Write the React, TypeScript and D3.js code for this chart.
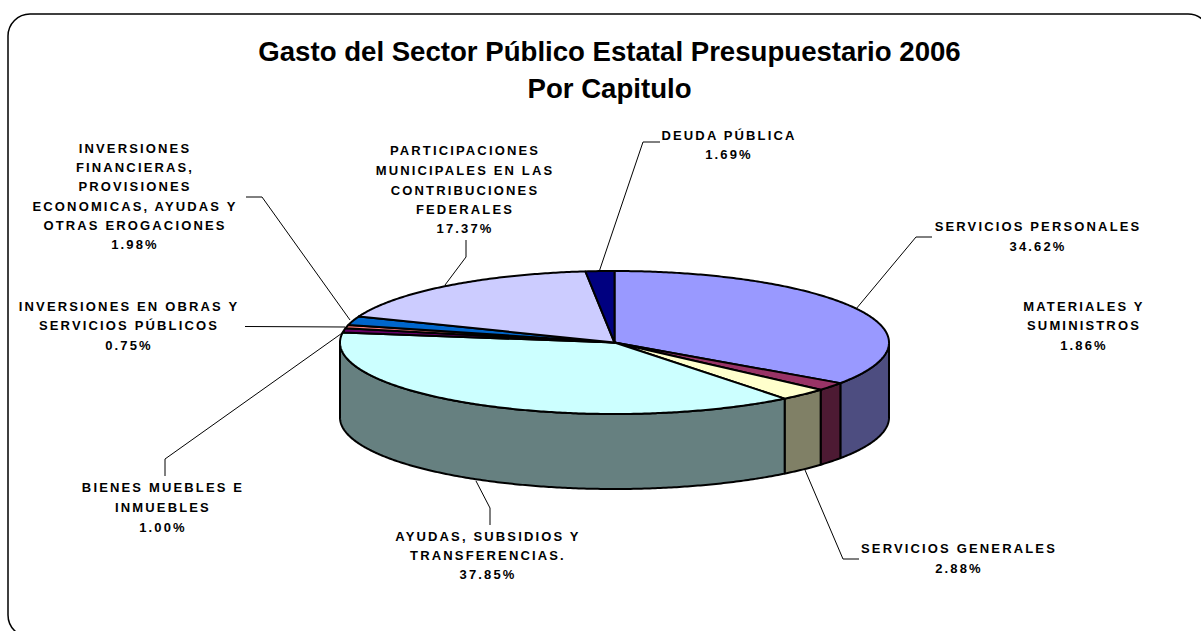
import React from "react";
import * as d3 from "d3";

const categories = [
  "SERVICIOS PERSONALES",
  "MATERIALES Y SUMINISTROS",
  "SERVICIOS GENERALES",
  "AYUDAS, SUBSIDIOS Y TRANSFERENCIAS.",
  "BIENES MUEBLES E INMUEBLES",
  "INVERSIONES EN OBRAS Y SERVICIOS PÚBLICOS",
  "INVERSIONES FINANCIERAS, PROVISIONES ECONOMICAS, AYUDAS Y OTRAS EROGACIONES",
  "PARTICIPACIONES MUNICIPALES EN LAS CONTRIBUCIONES FEDERALES",
  "DEUDA PÚBLICA",
];
const values = [34.62, 1.86, 2.88, 37.85, 1.0, 0.75, 1.98, 17.37, 1.69];
const topColors = ["#9999FF", "#993366", "#FFFFCC", "#CCFFFF", "#660066", "#FF8080", "#0066CC", "#CCCCFF", "#000080"];
const sideColors = ["#4D4D80", "#4D1A33", "#808066", "#668080", "#330033", "#804040", "#003366", "#666680", "#000040"];
const labelLines = [
  ["SERVICIOS PERSONALES", "34.62%"],
  ["MATERIALES Y", "SUMINISTROS", "1.86%"],
  ["SERVICIOS GENERALES", "2.88%"],
  ["AYUDAS, SUBSIDIOS Y", "TRANSFERENCIAS.", "37.85%"],
  ["BIENES MUEBLES E", "INMUEBLES", "1.00%"],
  ["INVERSIONES EN OBRAS Y", "SERVICIOS PÚBLICOS", "0.75%"],
  ["INVERSIONES", "FINANCIERAS,", "PROVISIONES", "ECONOMICAS, AYUDAS Y", "OTRAS EROGACIONES", "1.98%"],
  ["PARTICIPACIONES", "MUNICIPALES EN LAS", "CONTRIBUCIONES", "FEDERALES", "17.37%"],
  ["DEUDA PÚBLICA", "1.69%"],
];
const labelX = [1038, 1084, 959, 488, 163, 129, 135, 465, 729];
const labelY = [
  [226.5, 246.5],
  [306, 325.5, 345.5],
  [548.5, 568.5],
  [536.5, 555.5, 574.5],
  [487.5, 507.5, 527.5],
  [306, 325.5, 345],
  [148, 167, 186, 206, 225, 244],
  [150, 170, 190, 209, 228],
  [135, 154],
];
const leaders: [number, number][][] = [
  [[856, 309], [916, 237], [932, 237]],
  [],
  [[805, 470], [843, 559], [859, 559]],
  [[476, 481], [490, 508], [490, 525]],
  [[345, 331], [165, 459], [165, 476]],
  [[345, 327], [245, 326.5]],
  [[350, 320], [262, 197], [246, 197]],
  [[445, 285], [466, 257], [466, 240]],
  [[599, 272], [643, 142], [660, 142]],
];
const titleLines = ["Gasto del Sector Público Estatal Presupuestario 2006", "Por Capitulo"];

const W = 1201, H = 631;
const cx = 614.5, cy = 342.5, rx = 274.5, ry = 71.5, depth = 75;
const FONT = "'Liberation Sans', Arial, sans-serif";

const px = (a: number) => cx + rx * Math.sin(a);
const py = (a: number, dy = 0) => cy - ry * Math.cos(a) + dy;
const line = d3.line<[number, number]>();

const pie = d3.pie<number>().sort(null).value((d) => d);
const arcs = pie(values);

function samples(a0: number, a1: number): number[] {
  const n = Math.max(2, Math.ceil((a1 - a0) / 0.01));
  return d3.range(n + 1).map((i) => a0 + ((a1 - a0) * i) / n);
}
function topPath(a0: number, a1: number) {
  const pts = samples(a0, a1).map((a) => [px(a), py(a)] as [number, number]);
  return line([[cx, cy], ...pts]) + "Z";
}
function sidePath(a0: number, a1: number) {
  const lo = Math.max(a0, Math.PI / 2);
  const hi = Math.min(a1, (3 * Math.PI) / 2);
  if (hi <= lo) return null;
  const s = samples(lo, hi);
  const upper = s.map((a) => [px(a), py(a)] as [number, number]);
  const lower = s.slice().reverse().map((a) => [px(a), py(a, depth)] as [number, number]);
  return line([...upper, ...lower]) + "Z";
}

export default function App() {
  return (
    <svg width={W} height={H} viewBox={`0 0 ${W} ${H}`} style={{ position: "absolute", left: 0, top: 0, display: "block", background: "#fff" }}>
      <rect x={8} y={14} width={1202} height={623} rx={22} ry={22} fill="#fff" stroke="#000" strokeWidth={1.5} />
      {titleLines.map((t, i) => (
        <text key={t} x={609.5} y={61 + i * 37} textAnchor="middle" fontFamily={FONT} fontWeight="bold" fontSize={27.6} fill="#000">{t}</text>
      ))}
      <g stroke="#000" strokeWidth={2} strokeLinejoin="round">
        {arcs.map((a, i) => {
          const d = sidePath(a.startAngle, a.endAngle);
          return d ? <path key={i} d={d} fill={sideColors[i]} /> : null;
        })}
        {arcs.map((a, i) => (
          <path key={i} d={topPath(a.startAngle, a.endAngle)} fill={topColors[i]} />
        ))}
      </g>
      <g fill="none" stroke="#000" strokeWidth={1}>
        {leaders.map((l, i) => (l.length ? <path key={i} d={line(l) as string} /> : null))}
      </g>
      <g fontFamily={FONT} fontWeight="bold" fontSize={13} letterSpacing={2.15} textAnchor="middle" fill="#000">
        {labelLines.map((lines, i) =>
          lines.map((t, j) => (
            <text key={`${i}-${j}`} x={labelX[i]} y={labelY[i][j] + 4.5} data-category={categories[i]}>{t}</text>
          ))
        )}
      </g>
    </svg>
  );
}
